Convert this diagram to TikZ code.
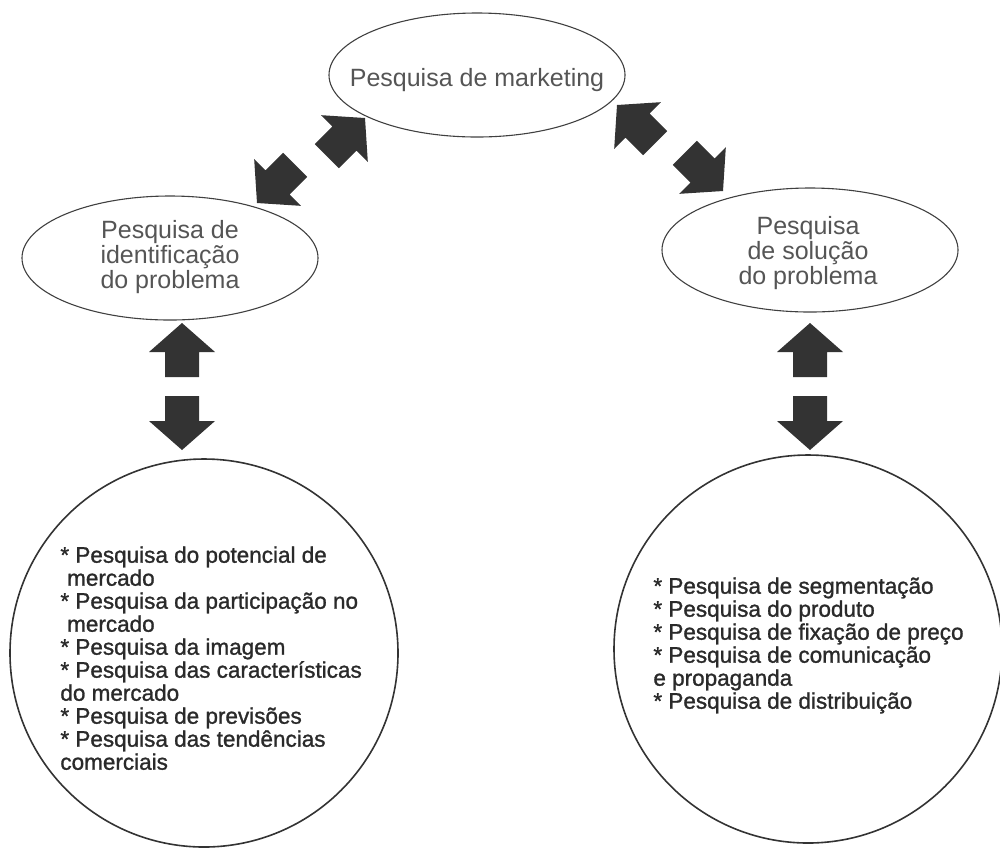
\documentclass[tikz,border=0pt]{standalone}
\usepackage{fontspec}
\setmainfont{Liberation Sans}
\newfontfamily\listfont[FakeBold=1.2]{Liberation Sans}
\usetikzlibrary{shapes.geometric}
\definecolor{arrowgray}{HTML}{333333}
\definecolor{labelgray}{HTML}{555555}
\definecolor{listgray}{HTML}{2A2A2A}

\begin{document}
\begin{tikzpicture}[x=.5pt,y=-.5pt,
  bubble/.style={ellipse,draw=black!75,line width=.55pt,minimum width=148pt,minimum height=62pt,inner sep=0pt},
  bubbletext/.style={align=center,text=labelgray,font=\fontsize{12.5}{12.5}\selectfont,inner sep=0pt},
  disc/.style={circle,draw=black!80,line width=.8pt,minimum size=194pt,inner sep=0pt},
  listtext/.style={align=left,text=listgray,font=\listfont\fontsize{11.25}{11.5}\selectfont,inner sep=0pt,anchor=north west},
  blockarrow/.style={fill=arrowgray}]
\useasboundingbox (0,0) rectangle (1000,848);
\node[bubble] (mkt) at (477,75) {};
\node[bubble] (ident) at (170,258) {};
\node[bubble] (sol) at (810,250) {};
\node[bubbletext] (mkttext) at (477,80) {Pesquisa de marketing};
\node[bubbletext] (identtext) at (170,257) {Pesquisa de\\identificação\\do problema};
\node[bubbletext] (soltext) at (808,253) {Pesquisa\\de solução\\do problema};
\node[disc] (identlist) at (204,653) {};
\node[disc] (sollist) at (808,649) {};
\node[listtext] (identitems) at (60,546) {* Pesquisa do potencial de\\\hspace*{.3em}mercado\\{*} Pesquisa da participação no\\\hspace*{.3em}mercado\\{*} Pesquisa da imagem\\{*} Pesquisa das características\\do mercado\\{*} Pesquisa de previsões\\{*} Pesquisa das tendências\\comerciais};
\node[listtext] (solitems) at (653,577) {* Pesquisa de segmentação\\{*} Pesquisa do produto\\{*} Pesquisa de fixação de preço\\{*} Pesquisa de comunicação\\e propaganda\\{*} Pesquisa de distribuição};
\foreach \x/\y/\a in {182/323/0,182/450/180,810/323/0,810/450/180,365/118/-45,257/203/135,617/105/45,723/191/-135}
\fill[blockarrow,shift={(\x,\y)},rotate=\a] (0,0) -- (33,29) -- (17,29) -- (17,54) -- (-17,54) -- (-17,29) -- (-33,29) -- cycle;
\end{tikzpicture}
\end{document}
